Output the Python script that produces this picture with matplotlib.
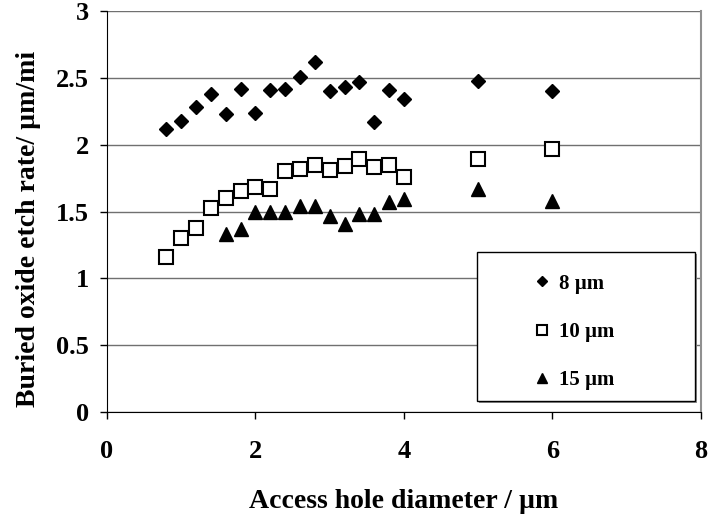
import matplotlib
matplotlib.use("Agg")
import matplotlib.pyplot as plt
from matplotlib.patches import Rectangle

plt.rcParams['font.family'] = ['Liberation Serif', 'DejaVu Serif']
plt.rcParams['font.weight'] = 'bold'

# access hole diameter (um) and etch rates for each membrane width
x_8 = [0.8, 1.0, 1.2, 1.4, 1.6, 1.8, 2.0, 2.2, 2.4, 2.6, 2.8, 3.0, 3.2, 3.4, 3.6, 3.8, 4.0, 5.0, 6.0]
y_8 = [2.12, 2.18, 2.28, 2.38, 2.23, 2.42, 2.24, 2.41, 2.42, 2.51, 2.62, 2.40, 2.43, 2.47, 2.17, 2.41, 2.34, 2.48, 2.40]

x_10 = [0.8, 1.0, 1.2, 1.4, 1.6, 1.8, 2.0, 2.2, 2.4, 2.6, 2.8, 3.0, 3.2, 3.4, 3.6, 3.8, 4.0, 5.0, 6.0]
y_10 = [1.16, 1.30, 1.38, 1.53, 1.60, 1.65, 1.68, 1.67, 1.80, 1.82, 1.85, 1.81, 1.84, 1.89, 1.83, 1.85, 1.76, 1.89, 1.97]

x_15 = [1.6, 1.8, 2.0, 2.2, 2.4, 2.6, 2.8, 3.0, 3.2, 3.4, 3.6, 3.8, 4.0, 5.0, 6.0]
y_15 = [1.33, 1.37, 1.50, 1.50, 1.50, 1.54, 1.54, 1.47, 1.41, 1.48, 1.48, 1.57, 1.59, 1.67, 1.58]

labels = ['8 \u00b5m', '10 \u00b5m', '15 \u00b5m']
x_ticks = [0, 2, 4, 6, 8]
y_ticks = [0, 0.5, 1, 1.5, 2, 2.5, 3]

fig = plt.figure(figsize=(7.10, 5.24), dpi=100)
ax = fig.add_axes([0.1507, 0.2137, 0.8366, 0.7653])

ax.plot(x_8, y_8, linestyle='none', marker='D', ms=7.5, color='black', label=labels[0])
ax.plot(x_10, y_10, linestyle='none', marker='s', ms=10, mfc='white', mec='black', mew=1.5, label=labels[1])
ax.plot(x_15, y_15, linestyle='none', marker='^', ms=9.5, color='black', label=labels[2])

ax.set_xlim(0, 8)
ax.set_ylim(0, 3)
ax.set_xticks(x_ticks)
ax.set_yticks(y_ticks)
ax.set_xticklabels([str(t) for t in x_ticks])
ax.set_yticklabels(['0', '0.5', '1', '1.5', '2', '2.5', '3'])
ax.tick_params(axis='both', direction='out', length=5, width=1, labelsize=19)
ax.tick_params(axis='x', pad=15)
ax.tick_params(axis='y', pad=8)

ax.grid(axis='y', color='#707070', linewidth=1)
ax.set_axisbelow(True)
ax.spines['top'].set_visible(False)
ax.spines['right'].set_color('#909090')
ax.spines['right'].set_linewidth(1.5)

fig.text(404 / 710, 1 - 501 / 524, 'Access hole diameter / \u00b5m', fontsize=20,
         fontweight='bold', ha='center', va='center')
fig.text(29 / 710, 1 - 229 / 524, 'Buried oxide etch rate/ \u00b5m/mi', fontsize=20,
         fontweight='bold', ha='center', va='center', rotation=90)

# legend box with a thin grey shadow
shadow = Rectangle((0.623 + 0.0034, 0.027 - 0.005), 0.367, 0.372, transform=ax.transAxes,
                   facecolor='#909090', edgecolor='none', zorder=3)
ax.add_patch(shadow)
box = Rectangle((0.623, 0.027), 0.367, 0.372, transform=ax.transAxes,
                facecolor='white', edgecolor='black', linewidth=1, zorder=4)
ax.add_patch(box)
leg = ax.legend(loc='center left', bbox_to_anchor=(0.6866, 0.20), frameon=False,
                prop={'size': 15, 'weight': 'bold'}, markerscale=0.7,
                handlelength=0.8, handletextpad=0.4, labelspacing=1.35)
leg.set_zorder(5)

fig.savefig('out.png', dpi=100)
